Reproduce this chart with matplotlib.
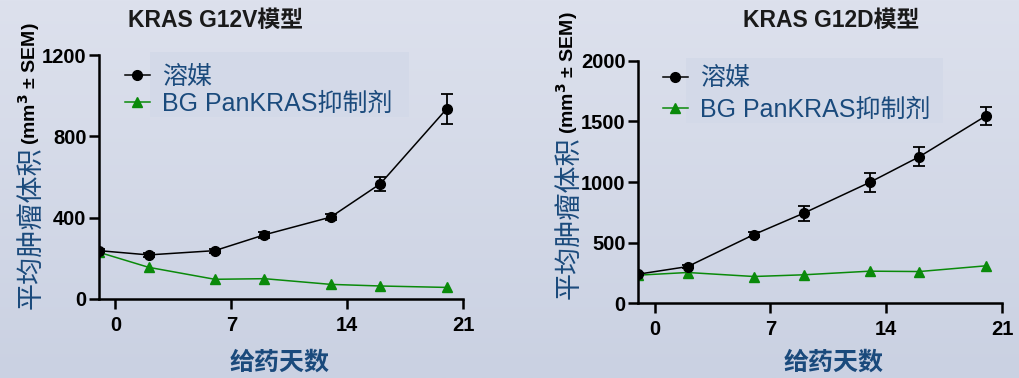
import numpy as np
import matplotlib
matplotlib.use("Agg")
import matplotlib.pyplot as plt
from matplotlib.patches import Rectangle
from matplotlib.lines import Line2D

plt.rcParams['font.family'] = ['Liberation Sans', 'Noto Sans CJK SC', 'DejaVu Sans']

days = [-1, 2, 6, 9, 13, 16, 20]
xticks = [0, 7, 14, 21]

# KRAS G12V
g12v_vehicle = [238, 217, 238, 316, 403, 567, 935]
g12v_vehicle_sem = [6, 8, 10, 14, 16, 35, 72]
g12v_treated = [230, 156, 97, 100, 72, 64, 57]
g12v_treated_sem = [6, 8, 6, 6, 5, 5, 4]
g12v_yticks = [0, 400, 800, 1200]

# KRAS G12D
g12d_vehicle = [239, 302, 566, 742, 997, 1209, 1544]
g12d_vehicle_sem = [10, 15, 18, 63, 78, 81, 73]
g12d_treated = [231, 253, 220, 234, 264, 261, 308]
g12d_treated_sem = [8, 8, 8, 8, 8, 8, 8]
g12d_yticks = [0, 500, 1000, 1500, 2000]

labels = ["溶媒", "BG PanKRAS抑制剂"]
blue = "#1a4a7c"
green = "#0a8a0a"

fig = plt.figure(figsize=(10.2, 3.78), dpi=100)

# gradient background
bg = fig.add_axes([0, 0, 1, 1], zorder=-10)
grad = np.linspace(0, 1, 256).reshape(-1, 1)
top = np.array([0xdd, 0xe1, 0xed]) / 255
bot = np.array([0xca, 0xd1, 0xe2]) / 255
img = top + (bot - top) * grad[..., None]
bg.imshow(img, aspect='auto', extent=[0, 1, 0, 1])
bg.axis('off')


def panel(rect, title, title_x, xlab_x, vehicle, vsem, treated, tsem, yticks,
          leg_box, leg_anchor, leg_space, ylab_x, ylab_split):
    ax = fig.add_axes(rect)
    ax.set_facecolor('none')
    ax.errorbar(days, vehicle, yerr=vsem, color='black', lw=1.1, marker='o',
                ms=7, capsize=4, elinewidth=1.3, capthick=1.3, zorder=3)
    ax.errorbar(days, treated, yerr=tsem, color=green, ecolor=green, lw=1.1,
                marker='^', ms=7, capsize=0, elinewidth=1, zorder=2)
    ax.set_xlim(-1, 21)
    ax.set_ylim(0, yticks[-1])
    ax.set_xticks(xticks)
    ax.set_yticks(yticks)
    for s in ['top', 'right']:
        ax.spines[s].set_visible(False)
    for s in ['left', 'bottom']:
        ax.spines[s].set_linewidth(1.8)
    ax.tick_params(width=1.8, length=7, labelsize=14.5)
    ax.tick_params(axis='x', pad=5)
    ax.tick_params(axis='y', pad=2)
    for t in ax.get_xticklabels() + ax.get_yticklabels():
        t.set_fontweight('bold')

    # x label
    fig.text(xlab_x, 1 - 363 / 378, "给药天数", ha='center', va='center',
             fontsize=18, fontweight='bold', color=blue,
             family=['Noto Sans CJK SC'])

    fig.text(title_x, 0.945, title, ha='center', va='center', fontsize=16.5,
             fontweight='bold', color='#1a1a1a')

    # legend background box
    fig.patches.append(Rectangle((leg_box[0], leg_box[1]), leg_box[2], leg_box[3],
                                 transform=fig.transFigure, facecolor='#d3d9e8',
                                 edgecolor='none', zorder=-5))
    handles = [Line2D([], [], color='black', lw=1.1, marker='o', ms=7),
               Line2D([], [], color=green, lw=1.1, marker='^', ms=7)]
    leg = ax.legend(handles, labels, loc='upper left', bbox_to_anchor=leg_anchor,
                    frameon=False, fontsize=18, handlelength=1.0,
                    handletextpad=0.48, labelspacing=leg_space, borderaxespad=0)
    for t in leg.get_texts():
        t.set_color(blue)

    # y label in two parts
    fig.text(ylab_x, ylab_split, "平均肿瘤体积", rotation=90, ha='center',
             va='top', fontsize=19.5, color=blue, family=['Noto Sans CJK SC'])
    fig.text(ylab_x - 0.002, ylab_split + 0.005, "(mm$^\\mathbf{3}$ ± SEM)",
             rotation=90, ha='center', va='bottom', fontsize=14,
             fontweight='bold', color='black')
    return ax


panel([0.097, 0.209, 0.357, 0.645], "KRAS G12V模型", 0.211, 280 / 1020,
      g12v_vehicle, g12v_vehicle_sem, g12v_treated, g12v_treated_sem, g12v_yticks,
      (0.147, 0.69, 0.254, 0.172), (0.044, 1.0), 0.12, 0.03, 0.612)

panel([0.6255, 0.198, 0.357, 0.641], "KRAS G12D模型", 0.815, 834 / 1020,
      g12d_vehicle, g12d_vehicle_sem, g12d_treated, g12d_treated_sem, g12d_yticks,
      (0.673, 0.674, 0.252, 0.172), (0.041, 1.019), 0.3, 0.558, 0.64)

fig.savefig("out.png", dpi=100)
